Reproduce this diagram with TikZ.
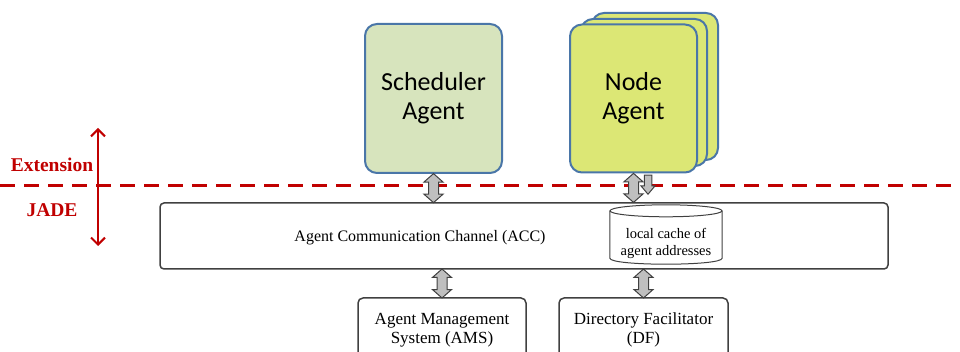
\documentclass[tikz,border=0pt]{standalone}
\usepackage{fontspec}
\setmainfont{Liberation Serif}
\newfontfamily\agentfont{Carlito}
\usetikzlibrary{shapes.arrows,arrows.meta}

\definecolor{schedfill}{HTML}{D7E4BD}
\definecolor{nodefill}{HTML}{DCE775}
\definecolor{agentline}{HTML}{4A76A8}
\definecolor{jadered}{HTML}{C00000}
\definecolor{arrowfill}{HTML}{BFBFBF}
\definecolor{boxline}{HTML}{404040}

\tikzset{
	agent/.style={draw=agentline, line width=2pt, rounded corners=12pt, align=center,
		font=\agentfont\fontsize{26}{29}\selectfont, inner sep=0pt},
	sysbox/.style={draw=boxline, line width=1.5pt, rounded corners=5pt, align=center,
		font=\fontsize{17}{19}\selectfont, inner sep=0pt},
	dblarrow/.style={double arrow, draw=boxline, fill=arrowfill, line width=1pt, rotate=90,
		minimum height=29pt, inner xsep=0pt, inner ysep=4.5pt, text height=0pt, text depth=0pt,
		double arrow head extend=4.5pt, double arrow tip angle=97},
	layerlabel/.style={text=jadered, font=\bfseries\fontsize{19.5}{22}\selectfont}
}

\begin{document}
\begin{tikzpicture}[x=1pt, y=-1pt]
	\useasboundingbox (0,0) rectangle (960,352);
	
	% agents
	\node [agent, fill=schedfill, minimum width=137, minimum height=149] (sched) at (433.5, 98.5) {Scheduler\\Agent};
	\node [agent, fill=nodefill, minimum width=126, minimum height=147] (node3) at (655, 86.5) {};
	\node [agent, fill=nodefill, minimum width=126, minimum height=147] (node2) at (644, 92.5) {};
	\node [agent, fill=nodefill, minimum width=127, minimum height=148] (node1) at (633.5, 98.5) {Node\\Agent};
	
	% platform
	\node [sysbox, rounded corners=4pt, minimum width=728, minimum height=66] (acc) at (524, 236) {};
	\node [font=\fontsize{16}{19}\selectfont] (acctext) at (420, 238) {Agent Communication Channel (ACC)};
	\node [minimum width=112, minimum height=59, inner sep=0pt] (cache) at (666, 234.5) {};
	\draw [boxline, line width=1pt] ([yshift=-6pt]cache.north west) -- ([yshift=6pt]cache.south west)
		.. controls +(0,8) and +(0,8) .. ([yshift=6pt]cache.south east) -- ([yshift=-6pt]cache.north east);
	\draw [boxline, line width=1pt] ([yshift=-6pt]cache.north) ellipse [x radius=56, y radius=6];
	\node [align=center, font=\fontsize{14.5}{17}\selectfont] (cachetext) at (666, 243) {local cache of\\agent addresses};
	\node [sysbox, minimum width=168, minimum height=64] (ams) at (442, 330) {Agent Management\\System (AMS)};
	\node [sysbox, minimum width=169, minimum height=64] (df) at (643.5, 330) {Directory Facilitator\\(DF)};
	
	% layer boundary
	\coordinate (bleft) at (0, 186);
	\coordinate (bright) at (960, 186);
	\coordinate (uptip) at (98, 128);
	\coordinate (downtip) at (98, 246);
	\draw [jadered, line width=3pt, dash pattern=on 15pt off 9pt] (bleft) -- (bright);
	\draw [{Straight Barb[length=7pt,width=14pt]}-{Straight Barb[length=7pt,width=14pt]}, jadered, line width=2pt] (uptip) -- (downtip);
	\node [layerlabel] (ext) at (52, 165) {Extension};
	\node [layerlabel] (jade) at (52, 210) {JADE};
	
	% links
	\node [single arrow, draw=boxline, fill=arrowfill, line width=1pt, rotate=-90,
		minimum height=19pt, inner xsep=0pt, inner ysep=3.25pt, text height=0pt, text depth=0pt,
		single arrow head extend=3.25pt, single arrow tip angle=80] (extra) at (648, 182.5) {};
	\path (sched.south) -- node [dblarrow] (l1) {} (sched.south |- acc.north);
	\path (node1.south) -- node [dblarrow] (l2) {} (node1.south |- acc.north);
	\path (ams.north) -- node [dblarrow] (l3) {} (ams.north |- acc.south);
	\path (df.north) -- node [dblarrow] (l4) {} (df.north |- acc.south);
\end{tikzpicture}
\end{document}
